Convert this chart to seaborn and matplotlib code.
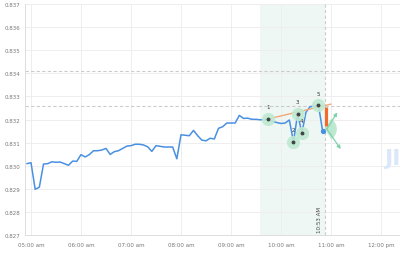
import numpy as np
import pandas as pd
import matplotlib
matplotlib.use("Agg")
import matplotlib.pyplot as plt
import matplotlib.dates as mdates
import matplotlib.ticker as mticker
import seaborn as sns

# ---------------- data ----------------
start_time = "2024-01-01 04:55"
price = [
    0.83009, 0.83013, 0.82898, 0.82907, 0.83007, 0.83009, 0.83017, 0.83015,
    0.83016, 0.83009, 0.83002, 0.83020, 0.83019, 0.83048, 0.83038, 0.83048,
    0.83065, 0.83065, 0.83068, 0.83075, 0.83049, 0.83061, 0.83065, 0.83075,
    0.83085, 0.83087, 0.83093, 0.83093, 0.83090, 0.83082, 0.83062, 0.83087,
    0.83084, 0.83081, 0.83081, 0.83081, 0.83030, 0.83134, 0.83132, 0.83130,
    0.83153, 0.83130, 0.83111, 0.83108, 0.83119, 0.83116, 0.83162, 0.83169,
    0.83185, 0.83185, 0.83185, 0.83218, 0.83205, 0.83206, 0.83201, 0.83201,
    0.83199, 0.83199, 0.83203, 0.83192, 0.83187, 0.83183, 0.83185, 0.83198,
    0.83103, 0.83226, 0.83141, 0.83232, 0.83256, 0.83258, 0.83261, 0.83149,
]
pattern_idx = [58, 64, 65, 66, 70]
pattern_labels = ["1", "2", "3", "4", "5"]
resistance_levels = [0.83412, 0.83259]
zone_start, zone_end = "2024-01-01 09:35", "2024-01-01 10:53"
now_label = "10:53 AM"
trend_start = ("2024-01-01 09:45", 0.83203)
trend_end = ("2024-01-01 11:00", 0.83267)
bar_time, bar_low, bar_high = "2024-01-01 10:54:30", 0.83173, 0.83253
arrow_origin = ("2024-01-01 10:55", 0.83159)
arrow_up = ("2024-01-01 11:07:30", 0.83231)
arrow_down = ("2024-01-01 11:11:40", 0.83072)
yticks = [0.827, 0.828, 0.829, 0.830, 0.831, 0.832, 0.833, 0.834, 0.835, 0.836, 0.837]
xtick_times = ["2024-01-01 %02d:00" % h for h in range(5, 13)]
xtick_labels = ["05:00 am", "06:00 am", "07:00 am", "08:00 am", "09:00 am",
                "10:00 am", "11:00 am", "12:00 pm"]

times = pd.date_range(start_time, periods=len(price), freq="5min")
df = pd.DataFrame({"time": times, "price": price})

# ---------------- style ----------------
sns.set_style("white")
plt.rcParams["font.family"] = ["DejaVu Sans"]

fig = plt.figure(figsize=(4.0, 2.55), dpi=100)
ax = fig.add_axes([0.0625, 0.0745, 0.9375, 0.9055])

T = lambda s: mdates.date2num(pd.Timestamp(s))
XL = (T("2024-01-01 04:52:48"), T("2024-01-01 12:22:48"))

# shaded zone
ax.axvspan(T(zone_start), T(zone_end), color="#eef7f3", zorder=0.5, lw=0)
ax.axvline(T(zone_end), color="#cccccc", lw=0.8, ls=(0, (3, 2)), zorder=1)
for lvl in resistance_levels:
    ax.axhline(lvl, color="#cccccc", lw=0.8, ls=(0, (3, 2)), zorder=1)

# watermark
ax.text(T("2024-01-01 12:04"), 0.83033, "JI", fontsize=16, fontweight="bold",
        color="#dbe8f9", ha="left", va="center", zorder=0.8, clip_on=True)

# main line
sns.lineplot(data=df, x="time", y="price", ax=ax, color="#4a90e2", lw=1.1, zorder=3)
ax.set_xlabel("")
ax.set_ylabel("")
ax.set_xlim(*XL)
ax.set_ylim(0.827, 0.837)
ax.set_yticks(yticks)
ax.set_xticks([T(t) for t in xtick_times])
ax.set_xticklabels(xtick_labels)
ax.yaxis.set_major_formatter(mticker.FormatStrFormatter("%.3f"))
ax.grid(True, color="#eeeeee", lw=0.7)
ax.set_axisbelow(True)
ax.tick_params(axis="both", length=0, labelsize=4, labelcolor="#777777")
ax.tick_params(axis="y", pad=3)
ax.tick_params(axis="x", pad=5)
for s in ["top", "right"]:
    ax.spines[s].set_visible(False)
for s in ["left", "bottom"]:
    ax.spines[s].set_color("#dddddd")
    ax.spines[s].set_linewidth(0.7)

# end dot
ax.plot(T(times[-1]), price[-1], "o", color="#4a90e2", ms=2.8, zorder=4)

# trend line
ax.plot([T(trend_start[0]), T(trend_end[0])], [trend_start[1], trend_end[1]],
        color="#f2a878", lw=1.0, zorder=4)

# pattern points
for i, lab in zip(pattern_idx, pattern_labels):
    x, y = T(times[i]), price[i]
    ax.plot(x, y, "o", color="#bfe9d1", ms=9.5, mec="none", zorder=5, alpha=0.9)
    ax.plot(x, y, "o", color="#444444", ms=1.8, zorder=6)
    ax.annotate(lab, (x, y), xytext=(0, 7), textcoords="offset points",
                ha="center", va="bottom", fontsize=4, color="#333333", zorder=7)

# orange bar
ax.vlines(T(bar_time), bar_low, bar_high, color="#f26a2c", lw=2.3, zorder=6)

# projection wedge (drawn in pixel space)
fig.canvas.draw()
ox, oy = ax.transData.transform((T(arrow_origin[0]), arrow_origin[1]))
th = np.radians(np.linspace(-58, 58, 40))
r = 12
px = np.concatenate([[ox - 2], ox - 2 + r * np.cos(th)])
py = np.concatenate([[oy], oy + r * np.sin(th)])
poly = ax.transData.inverted().transform(np.column_stack([px, py]))
ax.fill(poly[:, 0], poly[:, 1], color="#a8e2c2", alpha=0.75, lw=0, zorder=5)

for tgt in (arrow_up, arrow_down):
    ax.annotate("", xy=(T(tgt[0]), tgt[1]), xytext=(T(arrow_origin[0]), arrow_origin[1]),
                arrowprops=dict(arrowstyle="-|>", color="#7fd3a8", lw=0.9,
                                mutation_scale=5, shrinkA=0, shrinkB=0), zorder=6)

# now label
ax.annotate(now_label, (T(zone_end), 0.827), xytext=(-2, 2), textcoords="offset points",
            rotation=90, ha="right", va="bottom", fontsize=4, color="#444444", zorder=7)

fig.savefig("out.png", dpi=100, facecolor="white")
